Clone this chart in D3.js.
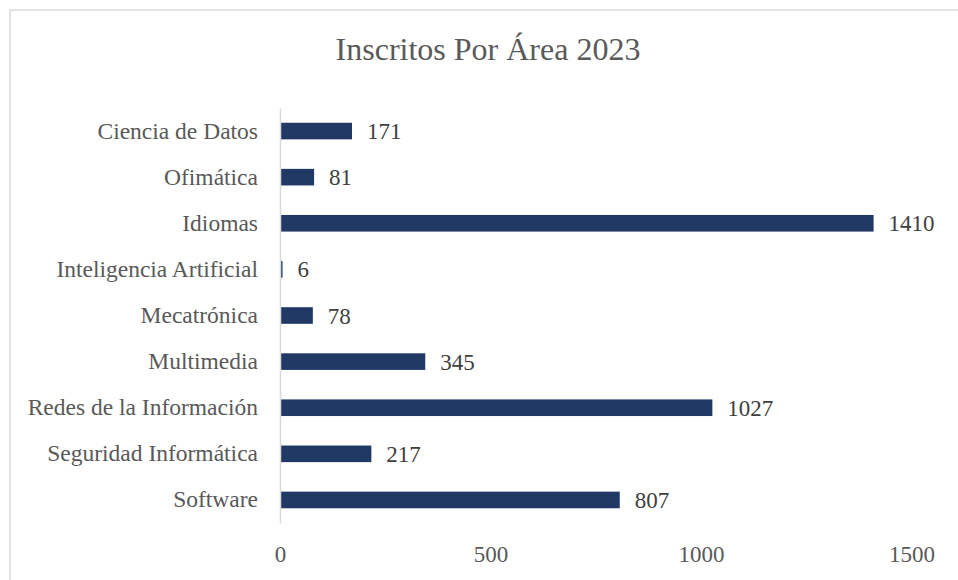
<!DOCTYPE html>
<html>
<head>
<meta charset="utf-8">
<script src="https://cdn.jsdelivr.net/npm/d3@7"></script>
<style>
  body { margin: 0; background: #fff; }
  svg text { font-family: "Liberation Serif", "Times New Roman", serif; }
</style>
</head>
<body>
<svg id="chart"></svg>
<script>
// chart data
const areas = ["Ciencia de Datos", "Ofimática", "Idiomas", "Inteligencia Artificial",
    "Mecatrónica", "Multimedia", "Redes de la Información", "Seguridad Informática", "Software"];
const inscritos = [171, 81, 1410, 6, 78, 345, 1027, 217, 807];
const xTicks = [0, 500, 1000, 1500];
const title = "Inscritos Por Área 2023";

(() => {
    const width = 958;
    const height = 580;

    const svg = d3.select("#chart")
        .attr("width", width)
        .attr("height", height);

    // outer frame (right and bottom edges fall off the picture)
    svg.append("rect")
        .attr("x", 10)
        .attr("y", 10)
        .attr("width", 980)
        .attr("height", 600)
        .attr("fill", "none")
        .attr("stroke", "#d9d9d9")
        .attr("stroke-width", 1.5);

    svg.append("text")
        .attr("x", 488)
        .attr("y", 60)
        .attr("text-anchor", "middle")
        .attr("font-size", "32px")
        .attr("fill", "#595959")
        .text(title);

    const data = areas.map((a, i) => ({ area: a, value: inscritos[i] }));

    const x = d3.scaleLinear()
        .domain([0, 1500])
        .range([280, 911.5]);

    const y = d3.scaleBand()
        .domain(areas)
        .range([108, 523])
        .paddingInner(0.64)
        .paddingOuter(0.32);

    // bars
    svg.append("g")
        .selectAll("rect")
        .data(data)
        .enter()
        .append("rect")
        .attr("x", x(0))
        .attr("y", d => y(d.area))
        .attr("width", d => x(d.value) - x(0))
        .attr("height", y.bandwidth())
        .attr("fill", "#1f3864");

    // value labels
    svg.append("g")
        .selectAll("text")
        .data(data)
        .enter()
        .append("text")
        .attr("x", d => x(d.value) + 15)
        .attr("y", d => y(d.area) + y.bandwidth() / 2)
        .attr("dy", "0.35em")
        .attr("font-size", "23px")
        .attr("fill", "#404040")
        .text(d => d.value);

    // category axis
    const yAxis = svg.append("g")
        .attr("transform", `translate(${x(0)},0)`)
        .call(d3.axisLeft(y).tickSize(0).tickSizeOuter(0).tickPadding(22));
    yAxis.select(".domain")
        .attr("stroke", "#d9d9d9")
        .attr("stroke-width", 1.5);
    yAxis.selectAll("text")
        .attr("font-size", "23.5px")
        .attr("font-family", "Liberation Serif, Times New Roman, serif")
        .attr("fill", "#595959");

    // value axis (labels only)
    const xAxis = svg.append("g")
        .attr("transform", "translate(0,523)")
        .call(d3.axisBottom(x).tickValues(xTicks).tickFormat(d3.format("d"))
            .tickSize(0).tickPadding(23));
    xAxis.select(".domain").remove();
    xAxis.selectAll("text")
        .attr("font-size", "23px")
        .attr("font-family", "Liberation Serif, Times New Roman, serif")
        .attr("fill", "#595959");
})();
</script>
</body>
</html>
